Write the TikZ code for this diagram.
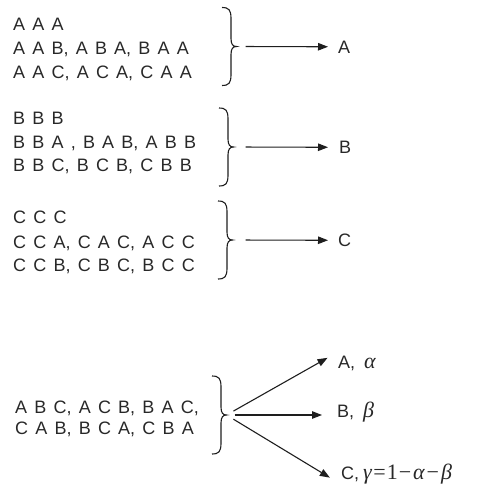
\documentclass[tikz,border=0pt]{standalone}
\usepackage{fontspec}
\setmainfont{Liberation Sans}
\newfontfamily\grk{Liberation Serif}
\usetikzlibrary{arrows.meta}
\definecolor{ink}{RGB}{40,40,40}
\definecolor{lineink}{RGB}{30,30,30}
\newcommand\lblfont{\fontsize{18}{22}\selectfont\spaceskip=7.2pt\relax}
\newcommand\gi[1]{{\fontsize{22}{22}\grk\itshape #1}}
\newcommand\gr[1]{{\fontsize{22}{22}\grk #1}}
\tikzset{
  txt/.style={anchor=base west, inner sep=0pt, font=\lblfont, text=ink},
  brc/.style={draw=lineink, line width=1.1pt},
  arr/.style={draw=lineink, line width=1.1pt, -{Triangle[length=10pt,width=7.5pt]}},
  rbrace/.pic={\draw[brc] (-9,-39) .. controls (-2,-39) and (0,-36.5) .. (0,-28) -- (0,-8) .. controls (0,-2) and (2,0) .. (5.5,0) .. controls (2,0) and (0,2) .. (0,8) -- (0,28) .. controls (0,36.5) and (-2,39) .. (-9,39);}
}
\begin{document}
\begin{tikzpicture}[x=1pt,y=-1pt]
\useasboundingbox (0,0) rectangle (484,495);
% group A
\node[txt] (a1) at (13,30.5) {A A A};
\node[txt] (a2) at (13,54.5) {A A B, A B A, B A A};
\node[txt] (a3) at (13,78) {A A C, A C A, C A A};
\pic at (231,46.5) {rbrace};
\coordinate (ta) at (236.5,46.5);
\node[txt] (la) at (338,53) {A};
\draw[arr, shorten <=9pt, shorten >=10pt] (ta) -- (la);
% group B
\node[txt] (b1) at (13,124.5) {B B B};
\node[txt] (b2) at (13,148.5) {B B A , B A B, A B B};
\node[txt] (b3) at (13,171.5) {B B C, B C B, C B B};
\pic at (228,147) {rbrace};
\coordinate (tbb) at (233.5,147);
\node[txt] (lb) at (339,153.5) {B};
\draw[arr, shorten <=12pt, shorten >=11pt] (tbb) -- (lb);
% group C
\node[txt] (c1) at (13,223.5) {C C C};
\node[txt] (c2) at (13,248.5) {C C A, C A C, A C C};
\node[txt] (c3) at (13,271.5) {C C B, C B C, B C C};
\pic at (227,240) {rbrace};
\coordinate (tc) at (232.5,240);
\node[txt] (lc) at (338,246.5) {C};
\draw[arr, shorten <=13pt, shorten >=10pt] (tc) -- (lc);
% mixed group
\node[txt] (m1) at (15,413.5) {A B C, A C B, B A C,};
\node[txt] (m2) at (15,434.5) {C A B, B C A, C B A};
\pic at (221,415) {rbrace};
\coordinate (tm) at (226.5,415);
\node[txt] (pa) at (338,368.5) {A,\hspace{9pt}\gi{α}};
\node[txt] (pb) at (337,417) {B,\hspace{9pt}\gi{β}};
\node[txt] (pc) at (341,479.5) {C,\hspace{4pt}\gi{γ}\hspace{1.5pt}\gr{=}\hspace{1pt}\gr{1}\hspace{1pt}\gr{−}\hspace{2pt}\gi{α}\hspace{2pt}\gr{−}\hspace{2pt}\gi{β}};
\draw[arr, shorten <=8pt, shorten >=12pt] (tm) -- ([yshift=4pt]pa.north west);
\draw[arr, shorten <=8pt, shorten >=15pt] (tm) -- (tm -| pb.west);
\draw[arr, shorten <=8pt, shorten >=13pt] (tm) -- (pc.south west);
\end{tikzpicture}
\end{document}
